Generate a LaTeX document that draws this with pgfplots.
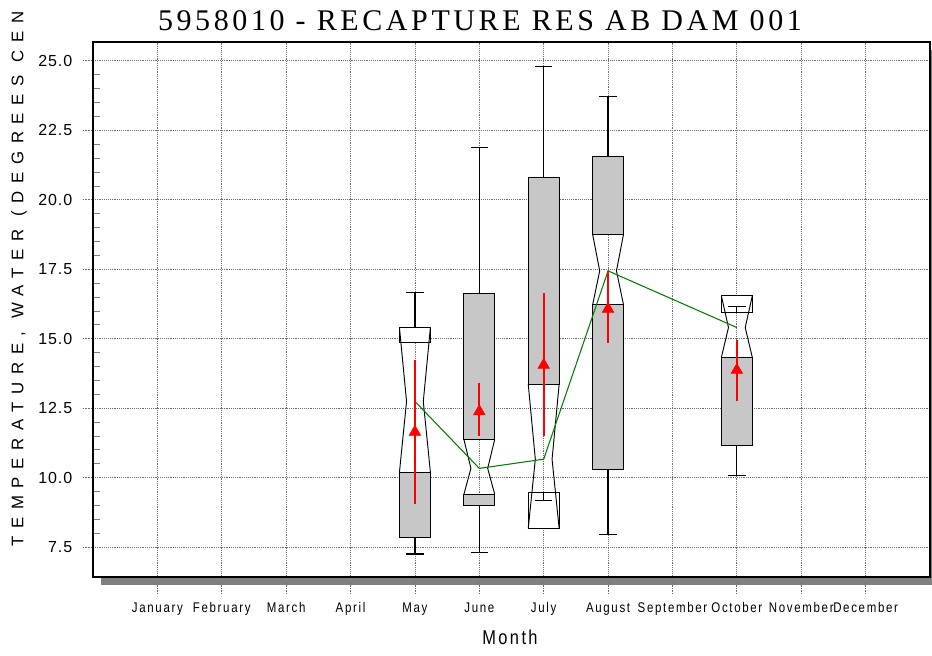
\documentclass[border=0pt]{standalone}
\usepackage{fontspec}
\setmainfont{Liberation Sans}
\newfontfamily\titlefont[LetterSpace=12]{Liberation Serif}
\newfontfamily\narrowfont[FakeStretch=0.82,LetterSpace=12]{Liberation Sans}
\newfontfamily\spacedfont[LetterSpace=46]{Liberation Sans}
\newfontfamily\numfont[LetterSpace=6]{Liberation Sans}
\usepackage{pgfplots}
\pgfplotsset{compat=1.18}
\definecolor{boxgray}{RGB}{199,199,199}
\definecolor{shadowgray}{RGB}{128,128,128}
\definecolor{medgreen}{RGB}{0,128,0}
\definecolor{gridgray}{RGB}{110,110,110}

\begin{document}
\begin{tikzpicture}
\useasboundingbox (0pt,0pt) rectangle (699pt,492pt);
% drop shadow of the frame
\fill[shadowgray] (75.75pt,53.25pt) rectangle (703.5pt,454.5pt);

\begin{axis}[
  at={(69.75pt,59.25pt)}, anchor=south west,
  scale only axis, width=627.75pt, height=401.25pt,
  xmin=0, xmax=13, ymin=6.42, ymax=25.68,
  axis background/.style={fill=white},
  axis line style={line width=1.2pt, black},
  grid=major,
  grid style={densely dotted, gridgray, line width=0.6pt},
  tick pos=left, tick align=outside,
  major tick length=7.5pt,
  major tick style={densely dotted, gridgray, line width=0.6pt},
  xtick style={yshift=-4.5pt},
  minor y tick num=4, minor tick length=5pt,
  minor tick style={solid, gray, line width=0.5pt, xshift=5pt},
  xtick={1,2,3,4,5,6,7,8,9,10,11,12},
  xticklabels={January,February,March,April,May,June,July,August,September,October,November,December},
  xticklabel style={font=\narrowfont\fontsize{10.5}{12}\selectfont, yshift=-8pt},
  ytick={7.5,10,12.5,15,17.5,20,22.5,25},
  yticklabel style={font=\numfont\fontsize{12}{14}\selectfont, xshift=-4.5pt,
    /pgf/number format/.cd, fixed, fixed zerofill, precision=1, assume math mode=true},
  unbounded coords=jump,
]

% May
\addplot[draw=black, line width=0.7pt, fill=boxgray] coordinates {(4.76,7.86)(5.24,7.86)(5.24,10.2)(4.76,10.2)} -- cycle;
\addplot[draw=black, line width=0.7pt, fill=white] coordinates {(4.76,14.88)(5.24,14.88)(5.24,15.39)(4.76,15.39)} -- cycle;
\addplot[black, line width=0.7pt] coordinates {(4.76,10.2)(4.87,12.74)(4.76,15.39) (5,nan) (5.24,10.2)(5.13,12.74)(5.24,15.39)};
\addplot[black, line width=0.9pt] coordinates {(5,15.39)(5,16.66) (5,nan) (4.865,16.66)(5.135,16.66) (5,nan) (5,7.86)(5,7.25) (5,nan) (4.865,7.25)(5.135,7.25)};

% June
\addplot[draw=black, line width=0.7pt, fill=boxgray] coordinates {(5.76,8.99)(6.24,8.99)(6.24,9.39)(5.76,9.39)} -- cycle;
\addplot[draw=black, line width=0.7pt, fill=boxgray] coordinates {(5.76,11.38)(6.24,11.38)(6.24,16.61)(5.76,16.61)} -- cycle;
\addplot[black, line width=0.7pt] coordinates {(5.76,9.39)(5.87,10.33)(5.76,11.38) (6,nan) (6.24,9.39)(6.13,10.33)(6.24,11.38)};
\addplot[black, line width=0.9pt] coordinates {(6,16.61)(6,21.89) (6,nan) (5.865,21.89)(6.135,21.89) (6,nan) (6,8.99)(6,7.3) (6,nan) (5.865,7.3)(6.135,7.3)};

% July
\addplot[draw=black, line width=0.7pt, fill=white] coordinates {(6.76,8.17)(7.24,8.17)(7.24,9.46)(6.76,9.46)} -- cycle;
\addplot[draw=black, line width=0.7pt, fill=boxgray] coordinates {(6.76,13.36)(7.24,13.36)(7.24,20.80)(6.76,20.80)} -- cycle;
\addplot[black, line width=0.7pt] coordinates {(6.76,8.17)(6.87,10.66)(6.76,13.36) (7,nan) (7.24,8.17)(7.13,10.66)(7.24,13.36)};
\addplot[black, line width=0.9pt] coordinates {(7,20.80)(7,24.8) (7,nan) (6.865,24.8)(7.135,24.8) (7,nan) (7,9.46)(7,9.18) (7,nan) (6.865,9.18)(7.135,9.18)};

% August
\addplot[draw=black, line width=0.7pt, fill=boxgray] coordinates {(7.76,10.28)(8.24,10.28)(8.24,16.22)(7.76,16.22)} -- cycle;
\addplot[draw=black, line width=0.7pt, fill=boxgray] coordinates {(7.76,18.76)(8.24,18.76)(8.24,21.55)(7.76,21.55)} -- cycle;
\addplot[black, line width=0.7pt] coordinates {(7.76,16.22)(7.87,17.44)(7.76,18.76) (8,nan) (8.24,16.22)(8.13,17.44)(8.24,18.76)};
\addplot[black, line width=0.9pt] coordinates {(8,21.55)(8,23.71) (8,nan) (7.865,23.71)(8.135,23.71) (8,nan) (8,10.28)(8,7.96) (8,nan) (7.865,7.96)(8.135,7.96)};

% October
\addplot[draw=black, line width=0.7pt, fill=boxgray] coordinates {(9.76,11.16)(10.24,11.16)(10.24,14.33)(9.76,14.33)} -- cycle;
\addplot[draw=black, line width=0.7pt, fill=white] coordinates {(9.76,15.94)(10.24,15.94)(10.24,16.54)(9.76,16.54)} -- cycle;
\addplot[black, line width=0.7pt] coordinates {(9.76,14.33)(9.87,15.40)(9.76,16.54) (10,nan) (10.24,14.33)(10.13,15.40)(10.24,16.54)};
\addplot[black, line width=0.9pt] coordinates {(10,15.94)(10,16.15) (10,nan) (9.865,16.15)(10.135,16.15) (10,nan) (10,11.16)(10,10.06) (10,nan) (9.865,10.06)(10.135,10.06)};

% medians
\addplot[medgreen, line width=0.8pt] coordinates {(5,12.74)(6,10.33)(7,10.66)(8,17.44)(10,15.40)};

% means with confidence interval
\addplot[red, only marks, mark=triangle*, mark size=5pt,
  error bars/.cd, y dir=both, y explicit, error mark=none,
  error bar style={red, line width=1.4pt}] coordinates {
  (5,11.64) += (0,2.59) -= (0,2.59)
  (6,12.38) += (0,1.02) -= (0,0.90)
  (7,14.05) += (0,2.59) -= (0,2.57)
  (8,16.07) += (0,1.35) -= (0,1.23)
  (10,13.87) += (0,1.08) -= (0,1.11)
};
\end{axis}

\node[anchor=base, inner sep=0pt] at (360pt,468.75pt) {\titlefont\fontsize{22.5}{27}\selectfont 5958010 - RECAPTURE RES AB DAM 001};
\node[anchor=west, rotate=90, inner sep=0pt] at (14.25pt,81.75pt) {\spacedfont\fontsize{12.6}{15}\selectfont TEMPERATURE, WATER (DEGREES CEN};
\node[anchor=base, inner sep=0pt] at (382.5pt,8.25pt) {\narrowfont\fontsize{15}{18}\selectfont Month};
\end{tikzpicture}
\end{document}
